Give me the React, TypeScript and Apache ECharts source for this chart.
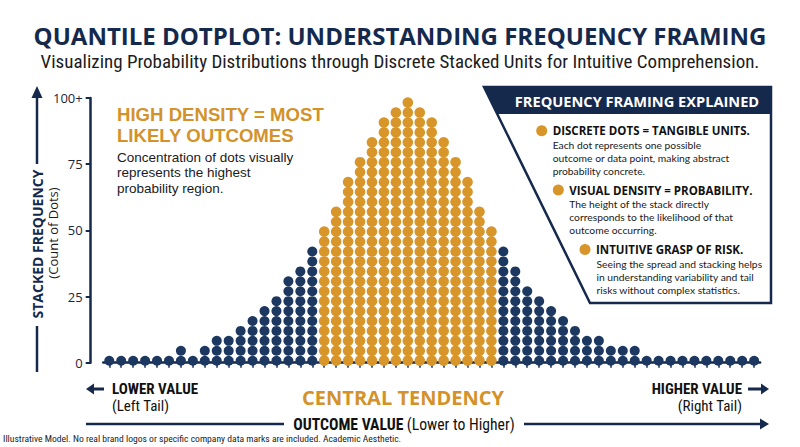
import React, { useEffect, useRef } from "react";
import * as echarts from "echarts";

// Dot counts per bin, left tail / central region / right tail
const leftTailCounts = [1, 1, 1, 1, 1, 1, 2, 1, 2, 3, 3, 4, 5, 6, 7, 9, 10, 12];
const centralCounts = [14, 16, 19, 21, 23, 25, 26, 27, 26, 25, 23, 21, 19, 16, 14];
const rightTailCounts = [12, 10, 8, 7, 6, 5, 4, 3, 3, 2, 2, 2, 1, 1, 1, 1, 1, 1, 1, 1, 1, 1];

// Y axis ticks and their labels
const yTickValues = [0, 25, 50, 75, 100];
const yTickLabels = ["0", "25", "50", "75", "100+"];

// axis units per stacked dot, and offset of first dot
const DOT_STEP = 3.75;
const DOT_BASE = 0.75;

const NAVY = "#15294d";
const DOT_NAVY = "#1c3860";
const GOLD = "#d8952a";
const GOLD_TEXT = "#d3922a";

export default function App() {
  const ref = useRef<HTMLDivElement>(null);

  useEffect(() => {
    document.body.style.margin = "0";
    if (!ref.current) return;
    const chart = echarts.init(ref.current, null, { renderer: "svg" });

    const allCounts = [...leftTailCounts, ...centralCounts, ...rightTailCounts];
    const bins = allCounts.map((_, i) => String(i + 1));
    const tailData: number[][] = [];
    const centralData: number[][] = [];
    allCounts.forEach((count, i) => {
      const isCentral =
        i >= leftTailCounts.length && i < leftTailCounts.length + centralCounts.length;
      for (let k = 0; k < count; k++) {
        (isCentral ? centralData : tailData).push([i, DOT_BASE + k * DOT_STEP]);
      }
    });

    const sans = "'Open Sans', 'Noto Sans', sans-serif";
    const compact = "'Liberation Sans', Arial, sans-serif";
    const body = "Lato, 'Open Sans', sans-serif";
    const narrow = "'Liberation Sans Narrow', 'Roboto Condensed', Roboto, sans-serif";

    const txt = (x: number, y: number, text: string, font: string, fill: string, align = "left") => ({
      type: "text",
      x,
      y,
      style: { text, fill, font, textAlign: align, textVerticalAlign: "middle" },
    });
    const bodyText = (x: number, y: number, text: string) => ({
      type: "text",
      x,
      y,
      style: {
        text,
        fill: "#1a1a1a",
        font: `10.3px ${body}`,
        lineHeight: 13,
        textAlign: "left",
        textVerticalAlign: "top",
      },
    });
    const bullet = (cx: number, cy: number, head: string) => [
      { type: "circle", shape: { cx, cy, r: 5.5 }, style: { fill: GOLD } },
      txt(cx + 11, cy, head, `bold 11.5px ${sans}`, "#111111"),
    ];

    chart.setOption({
      animation: false,
      grid: { left: 103.3, right: 39.9, top: 98, bottom: 84.3 },
      xAxis: {
        type: "category",
        data: bins,
        boundaryGap: true,
        offset: 9.6,
        axisLine: { lineStyle: { color: NAVY, width: 2.5 } },
        axisTick: { show: true, alignWithLabel: true, interval: 0, length: 5, lineStyle: { color: NAVY, width: 1.5 } },
        axisLabel: { show: false },
        splitLine: { show: false },
      },
      yAxis: {
        type: "value",
        min: 0,
        max: 100,
        interval: 25,
        offset: 12.6,
        axisLine: { show: true, lineStyle: { color: NAVY, width: 2.5 } },
        axisTick: { show: true, length: 5, lineStyle: { color: NAVY, width: 2 } },
        axisLabel: {
          color: "#1b2540",
          fontSize: 13,
          fontFamily: sans,
          margin: 8,
          formatter: (v: number) => yTickLabels[yTickValues.indexOf(v)] ?? String(v),
        },
        splitLine: { show: false },
      },
      series: [
        {
          name: "Tails",
          type: "scatter",
          data: tailData,
          symbol: "circle",
          symbolSize: 10,
          itemStyle: { color: DOT_NAVY, opacity: 1 },
          clip: false,
        },
        {
          name: "Central tendency",
          type: "scatter",
          data: centralData,
          symbol: "circle",
          symbolSize: 10.6,
          itemStyle: { color: GOLD, opacity: 1 },
          clip: false,
        },
      ],
      graphic: [
        // Title & subtitle
        txt(400, 35, "QUANTILE DOTPLOT: UNDERSTANDING FREQUENCY FRAMING", `bold 24px ${sans}`, NAVY, "center"),
        txt(
          400,
          61,
          "Visualizing Probability Distributions through Discrete Stacked Units for Intuitive Comprehension.",
          `19px ${narrow}`,
          "#1c1c1c",
          "center"
        ),
        // Y axis title with arrow
        { type: "line", shape: { x1: 37, y1: 372, x2: 37, y2: 326 }, style: { stroke: NAVY, lineWidth: 2.5 } },
        { type: "line", shape: { x1: 37, y1: 164, x2: 37, y2: 96 }, style: { stroke: NAVY, lineWidth: 2.5 } },
        { type: "polygon", shape: { points: [[37, 86], [31.5, 98], [42.5, 98]] }, style: { fill: NAVY } },
        {
          type: "text",
          x: 37,
          y: 244,
          rotation: Math.PI / 2,
          style: {
            text: "STACKED FREQUENCY",
            fill: NAVY,
            font: `bold 14px ${sans}`,
            textAlign: "center",
            textVerticalAlign: "middle",
          },
        },
        {
          type: "text",
          x: 53,
          y: 233,
          rotation: Math.PI / 2,
          style: {
            text: "(Count of Dots)",
            fill: "#1a1a1a",
            font: `13px ${sans}`,
            textAlign: "center",
            textVerticalAlign: "middle",
          },
        },
        // Left annotation
        txt(117, 114, "HIGH DENSITY = MOST", `bold 18.6px ${compact}`, GOLD_TEXT),
        txt(117, 135, "LIKELY OUTCOMES", `bold 18.6px ${compact}`, GOLD_TEXT),
        txt(117, 157, "Concentration of dots visually", `13.5px ${compact}`, "#1a1a1a"),
        txt(117, 172.6, "represents the highest", `13.5px ${compact}`, "#1a1a1a"),
        txt(117, 188.2, "probability region.", `13.5px ${compact}`, "#1a1a1a"),
        // Right explanation box
        {
          type: "polygon",
          shape: { points: [[484, 87], [771, 87], [771, 303], [590, 303]] },
          style: { fill: "#ffffff", stroke: NAVY, lineWidth: 2.5 },
        },
        {
          type: "polygon",
          shape: { points: [[484, 87], [771, 87], [771, 114], [497.5, 114]] },
          style: { fill: NAVY },
        },
        txt(637, 101, "FREQUENCY FRAMING EXPLAINED", `bold 14.6px ${sans}`, "#ffffff", "center"),
        ...bullet(541.7, 130.7, "DISCRETE DOTS = TANGIBLE UNITS."),
        bodyText(552.7, 138.5, "Each dot represents one possible\noutcome or data point, making abstract\nprobability concrete."),
        ...bullet(558.3, 190, "VISUAL DENSITY = PROBABILITY."),
        bodyText(569.3, 197.5, "The height of the stack directly\ncorresponds to the likelihood of that\noutcome occurring."),
        ...bullet(585, 249.5, "INTUITIVE GRASP OF RISK."),
        bodyText(596.5, 257, "Seeing the spread and stacking helps\nin understanding variability and tail\nrisks without complex statistics."),
        // Bottom labels
        { type: "line", shape: { x1: 92, y1: 389, x2: 104, y2: 389 }, style: { stroke: NAVY, lineWidth: 3 } },
        { type: "polygon", shape: { points: [[86, 389], [94, 383.5], [94, 394.5]] }, style: { fill: NAVY } },
        txt(112, 388.5, "LOWER VALUE", `bold 15px ${narrow}`, "#111111"),
        txt(112, 405.5, "(Left Tail)", `15px ${narrow}`, "#111111"),
        txt(403, 397, "CENTRAL TENDENCY", `bold 20px ${sans}`, GOLD_TEXT, "center"),
        txt(742, 388.5, "HIGHER VALUE", `bold 15px ${narrow}`, "#111111", "right"),
        txt(742, 405.5, "(Right Tail)", `15px ${narrow}`, "#111111", "right"),
        { type: "line", shape: { x1: 748, y1: 389, x2: 762, y2: 389 }, style: { stroke: NAVY, lineWidth: 3 } },
        { type: "polygon", shape: { points: [[769, 389], [761, 383.5], [761, 394.5]] }, style: { fill: NAVY } },
        { type: "line", shape: { x1: 86, y1: 424, x2: 284, y2: 424 }, style: { stroke: NAVY, lineWidth: 2.5 } },
        { type: "line", shape: { x1: 524, y1: 424, x2: 762, y2: 424 }, style: { stroke: NAVY, lineWidth: 2.5 } },
        { type: "polygon", shape: { points: [[769, 424], [760, 418.5], [760, 429.5]] }, style: { fill: NAVY } },
        {
          type: "text",
          x: 404,
          y: 424,
          style: {
            text: "{b|OUTCOME VALUE} {r|(Lower to Higher)}",
            textAlign: "center",
            textVerticalAlign: "middle",
            rich: {
              b: { font: `bold 15.7px ${narrow}`, fill: "#111111" },
              r: { font: `15.7px ${narrow}`, fill: "#111111" },
            },
          },
        },
        txt(
          3,
          438.5,
          "Illustrative Model. No real brand logos or specific company data marks are included. Academic Aesthetic.",
          `9.6px ${narrow}`,
          "#222222"
        ),
      ],
    });

    return () => chart.dispose();
  }, []);

  return <div ref={ref} style={{ width: 800, height: 447 }} />;
}
